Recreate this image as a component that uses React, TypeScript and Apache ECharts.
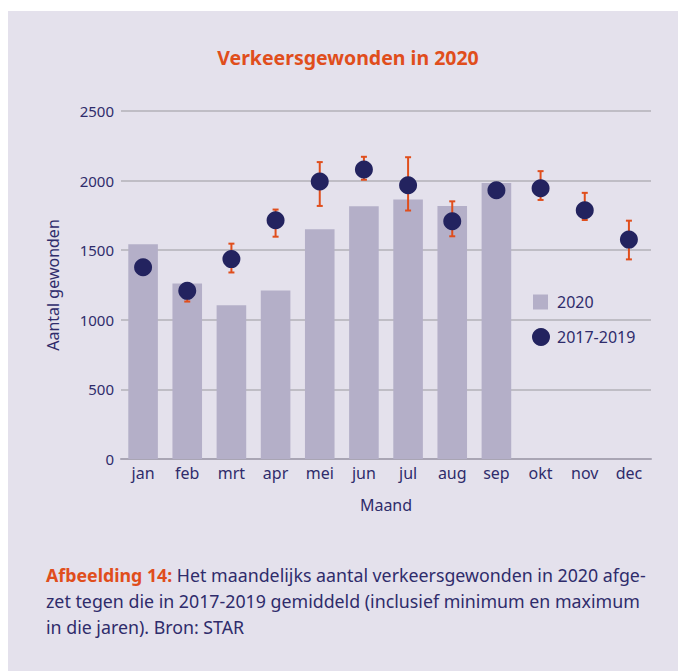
import React, { useEffect, useRef } from "react";
import * as echarts from "echarts";

const months = ["jan", "feb", "mrt", "apr", "mei", "jun", "jul", "aug", "sep", "okt", "nov", "dec"];
const values2020 = [1542, 1261, 1105, 1210, 1650, 1815, 1864, 1818, 1983, null, null, null];
const avg2017_2019 = [1378, 1208, 1436, 1715, 1993, 2080, 1967, 1708, 1931, 1945, 1787, 1576];
const min2017_2019 = [1350, 1131, 1340, 1597, 1818, 2006, 1785, 1600, 1905, 1861, 1717, 1434];
const max2017_2019 = [1405, 1250, 1547, 1792, 2133, 2171, 2168, 1851, 1955, 2068, 1912, 1712];
const yTicks = [0, 500, 1000, 1500, 2000, 2500];

const NAVY = "#2f2c6b";
const ORANGE = "#e04e1c";
const FONT = "'Noto Sans', sans-serif";

export default function App() {
  const ref = useRef<HTMLDivElement>(null);
  useEffect(() => {
    if (!ref.current) return;
    const chart = echarts.init(ref.current, null, { renderer: "svg" });
    const errData = months.map((m, i) => [i, min2017_2019[i], max2017_2019[i]]);
    chart.setOption({
      animation: false,
      backgroundColor: "#ffffff",
      textStyle: { fontFamily: FONT },
      graphic: [
        {
          type: "rect",
          shape: { x: 8, y: 11, width: 670, height: 660 },
          style: { fill: "#e4e1ec" },
          z: -10,
          silent: true,
        },
        {
          type: "text",
          x: 348,
          y: 57,
          style: {
            text: "Verkeersgewonden in 2020",
            fill: ORANGE,
            font: `bold 19.5px ${FONT}`,
            textAlign: "center",
            textVerticalAlign: "middle",
          },
        },
        {
          type: "text",
          x: 46,
          y: 562,
          style: {
            text:
              "{b|Afbeelding 14:} Het maandelijks aantal verkeersgewonden in 2020 afge-\nzet tegen die in 2017-2019 gemiddeld (inclusief minimum en maximum\nin die jaren). Bron: STAR",
            fill: NAVY,
            fontFamily: FONT,
            fontSize: 17.8,
            lineHeight: 26,
            rich: {
              b: { fill: ORANGE, fontWeight: "bold", fontFamily: FONT, fontSize: 17.8, lineHeight: 26 },
            },
          },
        },
      ],
      grid: { left: 121, right: 27, top: 111, bottom: 212 },
      legend: [
        {
          data: [{ name: "2020", icon: "rect" }],
          left: 533,
          top: 294,
          padding: 0,
          itemWidth: 15,
          itemHeight: 15,
          textStyle: { color: NAVY, fontSize: 16, fontFamily: FONT, padding: [0, 0, 0, 4] },
        },
        {
          data: [{ name: "2017-2019", icon: "circle" }],
          left: 532,
          top: 328,
          padding: 0,
          itemWidth: 18,
          itemHeight: 18,
          textStyle: { color: NAVY, fontSize: 16, fontFamily: FONT, padding: [0, 0, 0, 2] },
        },
      ],
      xAxis: {
        type: "category",
        data: months,
        name: "Maand",
        nameLocation: "middle",
        nameGap: 38,
        nameTextStyle: { color: NAVY, fontSize: 16, fontFamily: FONT },
        axisLine: { show: true, lineStyle: { color: "#a9a5b4", width: 2 } },
        axisTick: { show: false },
        axisLabel: { color: NAVY, fontSize: 16, margin: 6, fontFamily: FONT },
      },
      yAxis: {
        type: "value",
        min: yTicks[0],
        max: yTicks[yTicks.length - 1],
        interval: 500,
        name: "Aantal gewonden",
        nameLocation: "middle",
        nameGap: 60,
        nameTextStyle: { color: NAVY, fontSize: 16, fontFamily: FONT },
        axisLine: { show: false },
        axisTick: { show: false },
        axisLabel: {
          color: NAVY,
          fontSize: 15,
          margin: 7,
          fontFamily: FONT,
          formatter: (v: number) => String(v),
        },
        splitLine: { lineStyle: { color: "#b3b1b8", width: 1.5 } },
      },
      series: [
        {
          name: "2020",
          type: "bar",
          data: values2020,
          barWidth: "67%",
          itemStyle: { color: "#b4afc8" },
          z: 2,
        },
        {
          name: "range",
          type: "custom",
          data: errData,
          encode: { x: 0, y: [1, 2] },
          z: 3,
          renderItem: (params: any, api: any) => {
            const x = api.value(0);
            const lo = api.coord([x, api.value(1)]);
            const hi = api.coord([x, api.value(2)]);
            const cap = 3;
            const style = { stroke: ORANGE, lineWidth: 2 };
            return {
              type: "group",
              children: [
                { type: "line", shape: { x1: lo[0], y1: lo[1], x2: hi[0], y2: hi[1] }, style },
                { type: "line", shape: { x1: lo[0] - cap, y1: lo[1], x2: lo[0] + cap, y2: lo[1] }, style },
                { type: "line", shape: { x1: hi[0] - cap, y1: hi[1], x2: hi[0] + cap, y2: hi[1] }, style },
              ],
            };
          },
        },
        {
          name: "2017-2019",
          type: "scatter",
          data: avg2017_2019,
          symbol: "circle",
          symbolSize: 18,
          itemStyle: { color: "#23235f", opacity: 1 },
          z: 4,
        },
      ],
    });
    return () => chart.dispose();
  }, []);
  return (
    <div
      ref={ref}
      style={{ position: "absolute", left: 0, top: 0, width: 678, height: 671 }}
    />
  );
}
